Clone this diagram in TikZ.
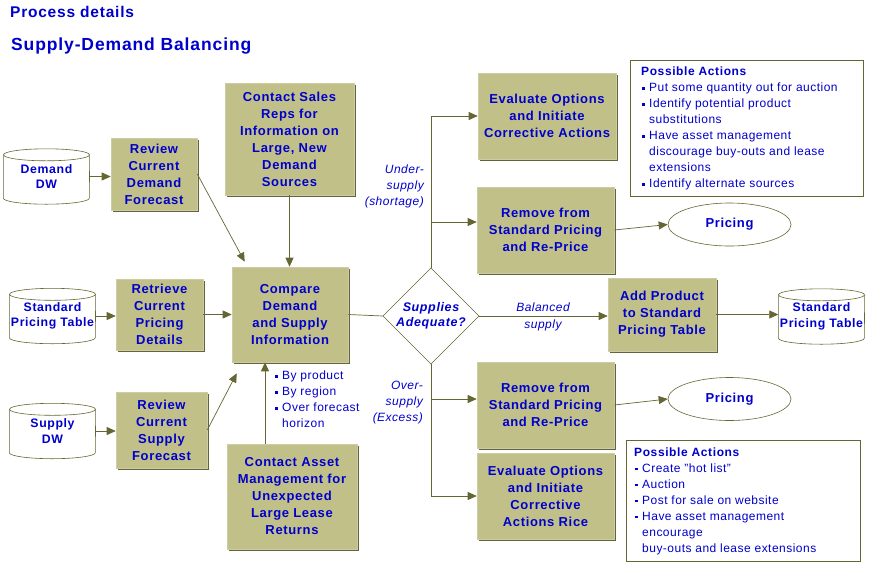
\documentclass[tikz,border=0pt]{standalone}
\usepackage{fontspec}
\setmainfont{Liberation Sans}[LetterSpace=4]
\newfontfamily\bfam{Liberation Sans}[LetterSpace=5]
\usetikzlibrary{shapes.geometric,arrows.meta,shadows}
\pgfdeclarelayer{bgzero}
\pgfdeclarelayer{bgone}
\pgfsetlayers{bgzero,bgone,main}
\definecolor{tblue}{RGB}{0,0,204}
\definecolor{boxfill}{RGB}{192,192,136}
\definecolor{boxedge}{RGB}{205,205,165}
\definecolor{shadowc}{RGB}{100,100,60}
\definecolor{linec}{RGB}{102,102,51}
\newcommand\sqb{\makebox[8pt][l]{\hspace{1pt}\raisebox{2.4pt}{\rule{2.6pt}{2.6pt}}}}
\newcommand\ind{\hspace*{8pt}}
\newcommand\cyl[1]{%
  \filldraw[cylline] ([yshift=-6pt]#1.north west) -- ([yshift=6pt]#1.south west)
    arc[start angle=180, end angle=360, x radius=43pt, y radius=6pt]
    -- ([yshift=-6pt]#1.north east);
  \filldraw[cylline] ([yshift=-6pt]#1.north) ellipse[x radius=43pt, y radius=6pt];}
\begin{document}
\begin{tikzpicture}[x=1pt,y=-1pt,
  proc/.style={rectangle, fill=boxfill, draw=boxedge, line width=0.6pt, text=tblue,
    font=\bfam\bfseries\fontsize{13}{17}\selectfont, align=center, inner sep=0pt,
    drop shadow={shadow xshift=1.5pt, shadow yshift=-1.5pt, fill=shadowc, opacity=1}},
  cylt/.style={rectangle, inner sep=0pt, minimum width=86pt, minimum height=55pt, text=tblue,
    font=\bfam\bfseries\fontsize{12.3}{15.5}\selectfont, align=center},
  cylline/.style={draw=linec, fill=white, line width=0.6pt},
  dec/.style={diamond, draw=linec, line width=0.6pt, fill=white, minimum width=96pt, minimum height=94pt,
    inner sep=0pt, text=tblue, font=\bfam\bfseries\itshape\fontsize{12.5}{15}\selectfont, align=center},
  ell/.style={ellipse, draw=linec, line width=0.6pt, minimum width=123pt, minimum height=43pt,
    inner sep=0pt, text=tblue, font=\bfam\bfseries\fontsize{13}{17}\selectfont},
  infobox/.style={rectangle, draw=linec, line width=0.8pt, anchor=north west, inner sep=0pt},
  listtext/.style={anchor=north west, inner sep=0pt, align=left, text=tblue,
    font=\fontsize{12}{16}\selectfont},
  lbl/.style={inner sep=0pt, text=tblue, font=\itshape\fontsize{12}{16}\selectfont},
  arr/.style={draw=linec, line width=0.7pt, -{Triangle[length=9pt,width=8pt]}},
  ln/.style={draw=linec, line width=0.7pt}]
\begin{pgfonlayer}{bgzero}
\fill[white] (0,0) rectangle (869,566);
\end{pgfonlayer}
\useasboundingbox (0,0) rectangle (869,566);

% titles
\node[anchor=base west, inner sep=0pt, text=tblue, font=\bfam\bfseries\fontsize{15.5}{18}\selectfont] (t1) at (10,17) {Process details};
\node[anchor=base west, inner sep=0pt, text=tblue, font=\bfam\bfseries\fontsize{17.5}{20}\selectfont] (t2) at (11,50) {Supply-Demand Balancing};

% data stores
\node[cylt] (ddw) at (46.5,176.5) {Demand\\DW};
\node[cylt] (spl) at (52.5,316) {Standard\\Pricing Table};
\node[cylt] (sdw) at (52.5,431) {Supply\\DW};
\node[cylt] (spr) at (821.5,316.5) {Standard\\Pricing Table};
\begin{pgfonlayer}{bgone}
\cyl{ddw}\cyl{spl}\cyl{sdw}\cyl{spr}
\end{pgfonlayer}

% process boxes
\node[proc, minimum width=86pt, minimum height=72pt] (rdf) at (154,174) {Review\\Current\\Demand\\Forecast};
\node[proc, minimum width=129pt, minimum height=112pt] (csr) at (289.5,139) {Contact Sales\\Reps for\\Information on\\Large, New\\Demand\\Sources};
\node[proc, minimum width=116pt, minimum height=95pt] (cmp) at (290,314.5) {Compare\\Demand\\and Supply\\Information};
\node[proc, minimum width=87pt, minimum height=71pt] (rcp) at (159.5,314.5) {Retrieve\\Current\\Pricing\\Details};
\node[proc, minimum width=91pt, minimum height=76pt] (rsf) at (161.5,430) {Review\\Current\\Supply\\Forecast};
\node[proc, minimum width=130pt, minimum height=105pt] (cam) at (292,496.5) {Contact Asset\\Management for\\Unexpected\\Large Lease\\Returns};
\node[proc, minimum width=138pt, minimum height=86pt] (eo1) at (547,116) {Evaluate Options\\and Initiate\\Corrective Actions};
\node[proc, minimum width=137pt, minimum height=86pt] (rp1) at (545.5,230) {Remove from\\Standard Pricing\\and Re-Price};
\node[proc, minimum width=108pt, minimum height=73pt] (ap) at (662,314.5) {Add Product\\to Standard\\Pricing Table};
\node[proc, minimum width=137pt, minimum height=86pt] (rp2) at (545.5,405) {Remove from\\Standard Pricing\\and Re-Price};
\node[proc, minimum width=137pt, minimum height=86pt] (eo2) at (545.5,496) {Evaluate Options\\and Initiate\\Corrective\\Actions Rice};

% decision and pricing
\node[dec] (dia) at (431,316) {Supplies\\Adequate?};
\node[ell] (pr1) at (729.5,224.5) {Pricing};
\node[ell] (pr2) at (729.5,399) {Pricing};

% info boxes
\node[infobox, minimum width=233pt, minimum height=136pt] (pa1) at (630,60) {};
\node[listtext] (pa1t) at (641,67) {{\bfam\bfseries Possible Actions}\\
\sqb Put some quantity out for auction\\
\sqb Identify potential product\\
\ind substitutions\\
\sqb Have asset management\\
\ind discourage buy-outs and lease\\
\ind extensions\\
\sqb Identify alternate sources};
\node[infobox, minimum width=234pt, minimum height=121pt] (pa2) at (626,440) {};
\node[listtext, font=\fontsize{12}{15.9}\selectfont] (pa2t) at (634,448) {{\bfam\bfseries Possible Actions}\\
\sqb Create "hot list"\\
\sqb Auction\\
\sqb Post for sale on website\\
\sqb Have asset management\\
\ind encourage\\
\ind buy-outs and lease extensions};
\node[listtext] (cmpb) at (274,371) {\sqb By product\\
\sqb By region\\
\sqb Over forecast\\
\ind horizon};

% labels
\node[lbl, anchor=north east, align=right] (lu) at (424,165) {Under-\\supply\\(shortage)};
\node[lbl, anchor=north east, align=right] (lo) at (423,381) {Over-\\supply\\(Excess)};
\node[lbl, align=center, font=\itshape\fontsize{12}{17}\selectfont] (lb) at (543,317) {Balanced\\supply};

% connectors
\draw[arr] (ddw.east) -- (ddw.east -| rdf.west);
\draw[arr] (rdf.east) -- ([xshift=13pt,yshift=5pt]cmp.north west);
\draw[arr] (csr.south) -- (csr.south |- cmp.north);
\draw[arr] (spl.east) -- (spl.east -| rcp.west);
\draw[arr] (rcp.east) -- (cmp.west);
\draw[arr] (sdw.east) -- (sdw.east -| rsf.west);
\draw[arr] (rsf.east) -- ([xshift=5pt,yshift=-11pt]cmp.south west);
\draw[arr] ([xshift=-27pt]cam.north) -- ([xshift=-27pt]cam.north |- cmp.south);
\draw[ln] (cmp.east) -- (dia.west);
\draw[arr] (dia.north) |- (eo1.west);
\draw[arr] (dia.north) |- ([yshift=8pt]rp1.west);
\draw[arr] (dia.east) -- (dia.east -| ap.west);
\draw[arr] (ap.east) -- (ap.east -| spr.west);
\draw[arr] (rp1.east) -- (pr1.west);
\draw[arr] (dia.south) |- ([yshift=6pt]rp2.west);
\draw[arr] (dia.south) |- (eo2.west);
\draw[arr] (rp2.east) -- (pr2.west);
\end{tikzpicture}
\end{document}
